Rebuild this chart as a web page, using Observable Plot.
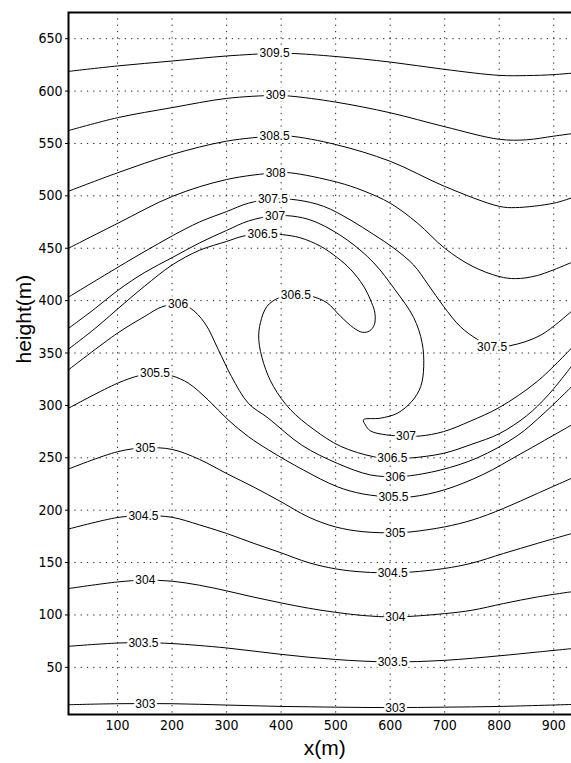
<!DOCTYPE html>
<html>
<head>
<meta charset="utf-8">
<script src="https://cdn.jsdelivr.net/npm/d3@7"></script>
<script src="https://cdn.jsdelivr.net/npm/@observablehq/plot@0.6"></script>
<style>
  html, body { margin: 0; padding: 0; background: #fff; overflow: hidden; }
  svg { overflow: hidden; }
</style>
</head>
<body>
<div id="chart"></div>
<script>
// Contour levels (potential temperature, K)
const levels = [303, 303.5, 304, 304.5, 305, 305.5, 306, 306.5, 307, 307.5, 308, 308.5, 309, 309.5];

// Contour polylines [x(m), height(m)]
const c303  = [[10,14.3],[100,15.3],[200,15.3],[300,14],[400,12.7],[500,12],[600,11.6],[700,12],[800,12.7],[935,14.6]];
const c3035 = [[10,70.1],[100,73.2],[150,73.5],[200,72.7],[300,68.5],[400,62.4],[500,57.5],[600,55.2],[700,56.7],[800,61],[870,64.6],[935,68]];
const c304  = [[10,125.2],[100,131.5],[150,133.2],[200,132.2],[250,128.4],[300,123],[350,117],[400,111.5],[450,106.5],[500,102.5],[550,99.5],[610,98.1],[700,101.3],[750,104.5],[808,110.9],[870,117.2],[935,122.3]];
const c3045 = [[10,182],[100,193],[150,194.8],[200,193.2],[250,186],[300,177.8],[350,168.3],[400,159.3],[450,150],[500,144],[550,141],[605,140.2],[640,141],[700,144.4],[750,149.5],[808,158.7],[870,168.3],[935,178]];
const c305  = [[10,239.3],[100,255.8],[150,259.5],[200,258],[250,248.5],[300,235],[350,222],[400,208],[450,193.5],[500,184],[550,179.5],[610,178.4],[640,179.4],[700,184.1],[750,190.5],[808,201.7],[870,216],[935,231]];
const c3055 = [[10,297.3],[100,321.2],[140,328.5],[170,331],[200,328.2],[230,321.2],[266,305.3],[303,286.1],[340,270.2],[377,257.5],[441,238.3],[503,222.4],[550,215.5],[606,212.5],[640,212.8],[700,219.5],[770,234],[840,254],[935,282]];
const c306  = [[10,334],[100,369],[150,385],[181,394],[211,396.5],[233,393],[260,378.6],[285,353],[309,327.5],[340,302],[376,288],[438,262],[503,244.7],[564,233.6],[610,232],[631,232.5],[692,238.3],[760,250],[833,271],[882,292.5],[935,319]];
const c3065 = [[10,353.7],[60,374],[100,392],[150,414],[200,434],[250,448],[300,456.5],[330,461.5],[366,464],[402,463],[435,460],[472,452],[503,441],[527,430],[551,414],[566,398],[572,388],[571,377],[562,371],[549,369.8],[533,374],[509,385],[484,398],[457,404],[427,406],[395,402.5],[374,394.5],[362,379],[359,363],[368,340],[386,318],[417,296],[460,277],[509,261],[570,251],[604,249.5],[637,249.8],[698,254.3],[750,263],[800,273],[850,290],[890,310],[935,339]];
const c307  = [[10,373.5],[60,393],[101,410],[150,427],[200,441],[250,455],[300,467],[340,476],[388,481],[430,480],[466,474.5],[521,458],[570,436],[608,411],[643,384],[658.5,360],[661.5,337],[656,318],[640,304],[613,292.5],[582,287.8],[551,286.3],[554.5,281.4],[564,275.6],[594,271.8],[629,270.8],[655,270.8],[698,275],[747,285],[800,298],[870,323],[935,356]];
const c3075 = [[10,403.4],[101,432],[150,447],[201,462],[250,475],[300,485],[340,493],[386,497],[430,496],[478,490],[527,477],[570,463],[607,450],[643,434],[670,415],[698,394.5],[729,375],[760,363],[787,356],[820,357],[876,367],[935,391]];
const c308  = [[10,450],[101,474],[201,499.6],[300,515.6],[390,522],[417,522],[503,513],[550,505],[600,493],[650,474],[700,450],[750,433],[800,423],[830,421],[870,424],[935,437]];
const c3085 = [[10,504.4],[100,522],[200,539.5],[300,552.2],[388,557],[417,557],[500,549],[600,533],[700,509],[800,490],[830,488.8],[900,493],[935,498.5]];
const c309  = [[10,562.3],[100,574.6],[200,584.2],[300,593],[388,595.8],[417,595.2],[500,589.5],[600,579.3],[700,566],[800,554],[850,553.5],[900,557],[935,559.5]];
const c3095 = [[10,618.8],[100,624],[200,628.7],[300,633.5],[388,636],[417,636],[500,633],[600,627.7],[700,620.7],[800,615],[850,614.8],[900,615.7],[935,617.2]];

// Contour labels
const labelText = ["309.5","309","308.5","308","307.5","307","306.5","306.5","306","305.5","305","307.5","307","306.5","306","305.5","305","304.5","304.5","304","304","303.5","303.5","303","303"];
const labelX    = [388,390,388,390,385,389,366,427,211,168.6,151,787,629,604,609.5,606,609.5,147.5,604.6,151,609.5,147.5,604.6,151,609.5];
const labelY    = [636,595.8,557,522,497,480.8,463.8,405.6,396.3,330.8,259.5,356,270.8,249.5,232,212.5,178.4,194.6,140.2,133.2,98.1,73.2,55.1,15.3,11.5];

// Axis ticks
const xTicks = [100, 200, 300, 400, 500, 600, 700, 800, 900];
const yTicks = [50, 100, 150, 200, 250, 300, 350, 400, 450, 500, 550, 600, 650];
const xTitle = "x(m)";
const yTitle = "height(m)";

const contours = [c303, c3035, c304, c3045, c305, c3055, c306, c3065, c307, c3075, c308, c3085, c309, c3095];
const rows = contours.flatMap((pts, i) => pts.map(([x, y]) => ({level: levels[i], x, y})));
const labels = labelText.map((t, i) => ({t, x: labelX[i], y: labelY[i]}));

const tickFont = "'Liberation Sans Narrow', 'DejaVu Sans Condensed', 'Liberation Sans', Arial, sans-serif";
const labelFont = "'Liberation Sans', Arial, Helvetica, sans-serif";

const chart = Plot.plot({
  width: 571,
  height: 763,
  marginLeft: 68,
  marginTop: 12,
  marginBottom: 49,
  marginRight: -9.5,
  x: {domain: [10, 950]},
  y: {domain: [5, 675]},
  style: {fontFamily: tickFont, fontSize: "14px", background: "#fff", color: "#000"},
  marks: [
    Plot.gridX(xTicks, {stroke: "#000", strokeOpacity: 0.85, strokeWidth: 1, strokeDasharray: "1.3,5"}),
    Plot.gridY(yTicks, {stroke: "#000", strokeOpacity: 0.85, strokeWidth: 1, strokeDasharray: "1.3,5"}),
    Plot.line(rows, {x: "x", y: "y", z: "level", curve: "catmull-rom", stroke: "#000", strokeWidth: 1}),
    Plot.text(labels, {x: "x", y: "y", text: "t", fontSize: 12, fontFamily: labelFont, fill: "#000", stroke: "#fff", strokeWidth: 5, paintOrder: "stroke"}),
    Plot.frame({stroke: "#000", strokeWidth: 2}),
    Plot.axisX(xTicks, {tickSize: 0, tickPadding: 6, label: null, fontSize: 14}),
    Plot.axisY(yTicks, {tickSize: 3, tickPadding: 3, label: null, fontSize: 14}),
    Plot.text([xTitle], {frameAnchor: "bottom", dy: 40, fontSize: 21, fontFamily: labelFont, text: d => d}),
    Plot.text([yTitle], {frameAnchor: "left", dx: -44, rotate: -90, fontSize: 21, fontFamily: labelFont, text: d => d})
  ]
});
document.getElementById("chart").appendChild(chart);
</script>
</body>
</html>
